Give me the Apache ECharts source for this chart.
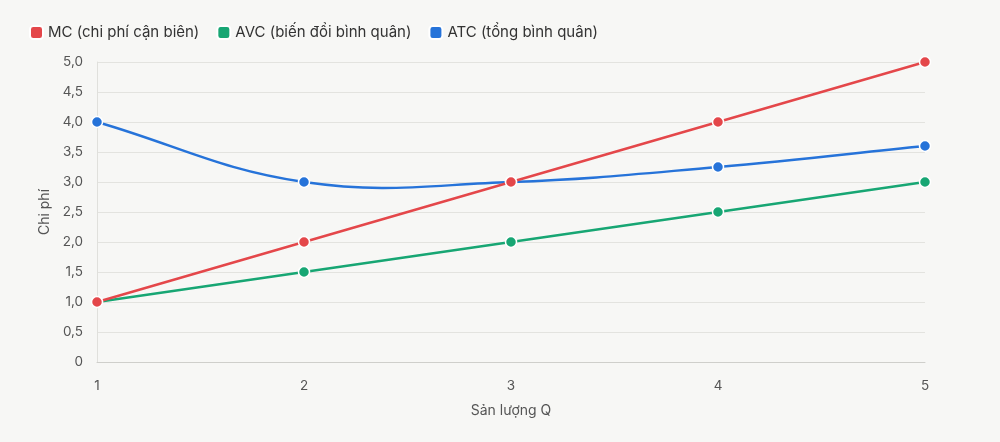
<!DOCTYPE html>
<html>
<head>
<meta charset="utf-8">
<title>Chi phí</title>
<script src="https://cdn.jsdelivr.net/npm/echarts@6/dist/echarts.min.js"></script>
<style>
  html, body { margin: 0; padding: 0; background: #f7f7f5; }
  #chart { width: 1000px; height: 442px; }
</style>
</head>
<body>
<div id="chart"></div>
<script>
// dữ liệu
const quantities = ['1', '2', '3', '4', '5'];
const mcValues = [1, 2, 3, 4, 5];
const avcValues = [1, 1.5, 2, 2.5, 3];
const atcValues = [4, 3, 3, 3.25, 3.6];
const seriesNames = ['MC (chi phí cận biên)', 'AVC (biến đổi bình quân)', 'ATC (tổng bình quân)'];
const colors = ['#e4474a', '#17a673', '#2673d9'];
const tension = 0.4;

const chart = echarts.init(document.getElementById('chart'));

const makeSeries = (name, data, color, z, hideLine) => ({
  name: name,
  type: 'line',
  data: data,
  z: z,
  symbol: 'circle',
  symbolSize: 11,
  lineStyle: { color: color, width: 2.4, opacity: hideLine ? 0 : 1 },
  itemStyle: { color: color, borderColor: '#ffffff', borderWidth: 1.5 },
  emphasis: { disabled: true }
});

// đường cong ATC kiểu spline (như tension của Chart.js), toạ độ lấy qua api.coord
const renderCurve = (params, api) => {
  if (params.dataIndex !== 0) return null;
  const pts = atcValues.map((v, i) => api.coord([i, v]));
  const n = pts.length;
  const cps = pts.map((p, i) => {
    const prev = pts[Math.max(i - 1, 0)];
    const next = pts[Math.min(i + 1, n - 1)];
    const d01 = Math.hypot(p[0] - prev[0], p[1] - prev[1]);
    const d12 = Math.hypot(next[0] - p[0], next[1] - p[1]);
    const tot = d01 + d12 || 1;
    const fa = tension * d01 / tot;
    const fb = tension * d12 / tot;
    return {
      before: [p[0] - fa * (next[0] - prev[0]), p[1] - fa * (next[1] - prev[1])],
      after: [p[0] + fb * (next[0] - prev[0]), p[1] + fb * (next[1] - prev[1])]
    };
  });
  let d = 'M' + pts[0][0] + ' ' + pts[0][1];
  for (let i = 1; i < n; i++) {
    const c1 = cps[i - 1].after;
    const c2 = cps[i].before;
    d += ' C' + c1[0] + ' ' + c1[1] + ' ' + c2[0] + ' ' + c2[1] + ' ' + pts[i][0] + ' ' + pts[i][1];
  }
  return {
    type: 'path',
    shape: { pathData: d },
    style: { fill: 'none', stroke: colors[2], lineWidth: 2.4 }
  };
};

const option = {
  backgroundColor: '#f7f7f5',
  animation: false,
  textStyle: { fontFamily: 'Inter, "Noto Sans", sans-serif' },
  legend: {
    data: seriesNames,
    left: 24,
    top: 20,
    itemWidth: 13,
    itemHeight: 13,
    itemGap: 17,
    icon: 'roundRect',
    textStyle: { color: '#333', fontSize: 15 }
  },
  grid: { left: 97, right: 75, top: 62, bottom: 80 },
  xAxis: {
    type: 'category',
    data: quantities,
    boundaryGap: false,
    name: 'Sản lượng Q',
    nameLocation: 'middle',
    nameGap: 42,
    nameTextStyle: { color: '#555', fontSize: 14 },
    axisLine: { lineStyle: { color: '#cfcfcb' } },
    axisTick: { show: false },
    axisLabel: { color: '#555', fontSize: 13.5, margin: 17 },
    splitLine: { show: false }
  },
  yAxis: {
    type: 'value',
    min: 0,
    max: 5,
    interval: 0.5,
    name: 'Chi phí',
    nameLocation: 'middle',
    nameGap: 45,
    nameTextStyle: { color: '#555', fontSize: 14 },
    axisLine: { show: true, lineStyle: { color: '#e0e0dc' } },
    axisTick: { show: false },
    axisLabel: {
      color: '#555',
      fontSize: 13.5,
      margin: 14,
      formatter: v => v === 0 ? '0' : v.toFixed(1).replace('.', ',')
    },
    splitLine: { lineStyle: { color: '#e3e3df' } }
  },
  series: [
    makeSeries(seriesNames[0], mcValues, colors[0], 4, false),
    makeSeries(seriesNames[1], avcValues, colors[1], 3, false),
    makeSeries(seriesNames[2], atcValues, colors[2], 2, true),
    {
      name: seriesNames[2],
      type: 'custom',
      data: atcValues,
      z: 1,
      itemStyle: { color: colors[2] },
      renderItem: renderCurve,
      silent: true
    }
  ]
};

chart.setOption(option);
</script>
</body>
</html>
